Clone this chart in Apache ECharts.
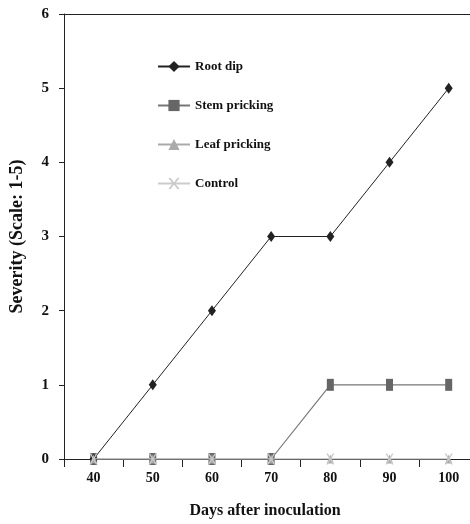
<!DOCTYPE html>
<html><head><meta charset="utf-8">
<script src="https://cdn.jsdelivr.net/npm/echarts@6/dist/echarts.min.js"></script>
<style>html,body{margin:0;padding:0;background:#fff}#c{width:470px;height:524px}</style>
</head><body><div id="c"></div>
<script>
const days = [40,50,60,70,80,90,100];
const rootDip = [0,1,2,3,3,4,5];
const stemPricking = [0,0,0,0,1,1,1];
const leafPricking = [0,0,0,0,0,0,0];
const control = [0,0,0,0,0,0,0];
const xTickLabels = [40,50,60,70,80,90,100];
const xTickMarks = [35,45,55,65,75,85,95,105];
const yTicks = [0,1,2,3,4,5,6];

const font = '"Liberation Serif","Times New Roman",serif';
const pairs = arr => days.map((d,i)=>[d, arr[i]]);
const chart = echarts.init(document.getElementById('c'), null, {renderer:'canvas'});
chart.setOption({
  animation:false,
  grid:{left:64, top:14, bottom:64, right:0},
  legend:{
    orient:'vertical', left:152, top:55, itemWidth:32, itemHeight:14, itemGap:26,
    textStyle:{fontFamily:font, fontWeight:'bold', fontSize:13, color:'#111'},
    data:['Root dip','Stem pricking','Leaf pricking','Control']
  },
  xAxis:[{
    type:'value', min:35, max:103.6,
    name:'Days after inoculation', nameLocation:'middle', nameGap:44,
    nameTextStyle:{fontFamily:font, fontWeight:'bold', fontSize:16, color:'#111', padding:[0,0,0,-4]},
    axisLine:{lineStyle:{color:'#222', width:1}},
    axisTick:{show:true, inside:false, length:8, lineStyle:{color:'#222'}, customValues:xTickMarks},
    axisLabel:{fontFamily:font, fontWeight:'bold', fontSize:14, color:'#111', margin:12, customValues:xTickLabels},
    splitLine:{show:false}
  },{
    type:'value', min:35, max:103.6, position:'top',
    axisLine:{show:true, lineStyle:{color:'#222', width:1}},
    axisTick:{show:false}, axisLabel:{show:false}, splitLine:{show:false}
  }],
  yAxis:{
    type:'value', min:0, max:6, interval:1,
    name:'Severity (Scale: 1-5)', nameLocation:'middle', nameGap:38, nameRotate:90,
    nameTextStyle:{fontFamily:font, fontWeight:'bold', fontSize:18, color:'#111'},
    axisLine:{show:true, lineStyle:{color:'#222', width:1}},
    axisTick:{show:true, length:5, lineStyle:{color:'#222'}},
    axisLabel:{fontFamily:font, fontWeight:'bold', fontSize:15, color:'#111', margin:15,
      formatter:function(v){return yTicks.indexOf(v)>=0?String(v):'';}},
    splitLine:{show:false}
  },
  series:[
    {name:'Root dip', type:'line', data:pairs(rootDip), symbol:'diamond', symbolSize:[8,11],
      lineStyle:{color:'#222', width:1}, itemStyle:{color:'#222'}, z:5},
    {name:'Stem pricking', type:'line', data:pairs(stemPricking), symbol:'rect', symbolSize:[7,12],
      lineStyle:{color:'#777', width:1.2}, itemStyle:{color:'#666'}, z:4},
    {name:'Leaf pricking', type:'line', data:pairs(leafPricking), symbol:'triangle', symbolSize:[7,9],
      lineStyle:{color:'#aaa', width:1}, itemStyle:{color:'#aaa'}, z:6},
    {name:'Control', type:'line', data:pairs(control), symbol:'path://M0,0L2,0L5,4L8,0L10,0L6,5L10,10L8,10L5,6L2,10L0,10L4,5Z', symbolSize:[8,11],
      lineStyle:{color:'#ccc', width:1}, itemStyle:{color:'#c8c8c8'}, z:7}
  ]
});
</script></body></html>
